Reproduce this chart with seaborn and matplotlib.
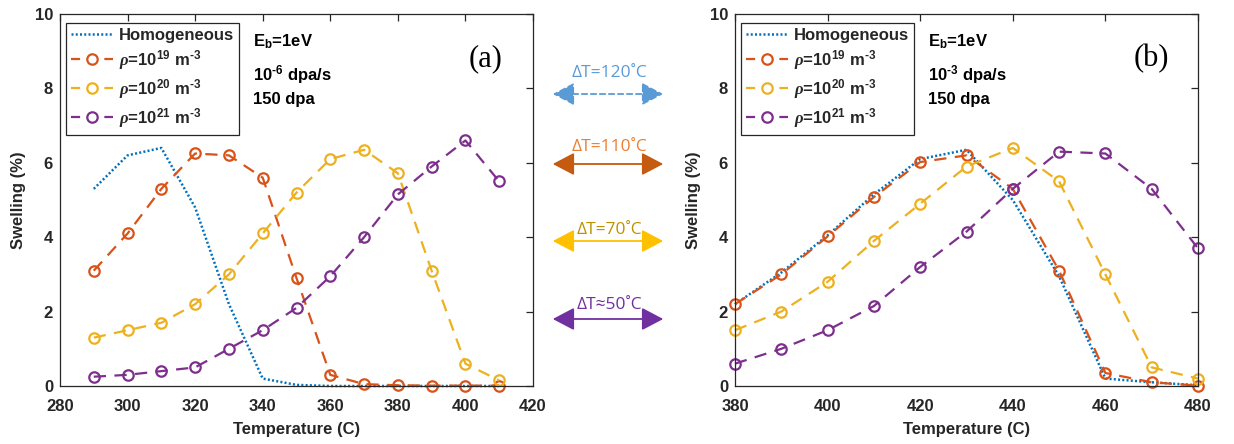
import numpy as np
import pandas as pd
import matplotlib
matplotlib.use("Agg")
import matplotlib.pyplot as plt
from matplotlib.patches import FancyArrowPatch
import seaborn as sns

# ---------------- data ----------------
temp_a = [290, 300, 310, 320, 330, 340, 350, 360, 370, 380, 390, 400, 410]
homog_a = [5.3, 6.2, 6.4, 4.8, 2.2, 0.2, 0.03, 0.0, 0.0, 0.0, 0.0, 0.0, 0.0]
rho19_a = [3.1, 4.1, 5.3, 6.25, 6.2, 5.6, 2.9, 0.3, 0.05, 0.02, 0.01, 0.01, 0.01]
rho20_a = [1.3, 1.5, 1.7, 2.2, 3.0, 4.1, 5.2, 6.1, 6.35, 5.72, 3.1, 0.6, 0.15]
rho21_a = [0.25, 0.3, 0.4, 0.5, 1.0, 1.5, 2.1, 2.95, 4.0, 5.15, 5.9, 6.6, 5.5]

temp_b = [380, 390, 400, 410, 420, 430, 440, 450, 460, 470, 480]
homog_b = [2.2, 3.05, 4.05, 5.15, 6.1, 6.35, 5.0, 2.95, 0.2, 0.1, 0.02]
rho19_b = [2.2, 3.0, 4.02, 5.08, 6.02, 6.2, 5.3, 3.1, 0.35, 0.1, 0.01]
rho20_b = [1.5, 2.0, 2.8, 3.9, 4.9, 5.9, 6.4, 5.5, 3.0, 0.5, 0.2]
rho21_b = [0.6, 1.0, 1.5, 2.15, 3.2, 4.15, 5.3, 6.3, 6.25, 5.3, 3.7]

series_labels = ["Homogeneous",
                 r"$\mathit{\rho}$=10$^{19}$ m$^{\text{-}3}$",
                 r"$\mathit{\rho}$=10$^{20}$ m$^{\text{-}3}$",
                 r"$\mathit{\rho}$=10$^{21}$ m$^{\text{-}3}$"]
series_colors = ["#0072BD", "#D95319", "#EDB120", "#7E2F8E"]

x_ticks_a = [280, 300, 320, 340, 360, 380, 400, 420]
x_ticks_b = [380, 400, 420, 440, 460, 480]
y_ticks = [0, 2, 4, 6, 8, 10]

notes_a = [r"E$_{\mathbf{b}}$=1eV", r"10$^{\text{-}6}$ dpa/s", "150 dpa"]
notes_b = [r"E$_{\mathbf{b}}$=1eV", r"10$^{\text{-}3}$ dpa/s", "150 dpa"]

dt_labels = ["\u0394T=120\u02daC", "\u0394T=110\u02daC", "\u0394T=70\u02daC", "\u0394T\u224850\u02daC"]
dt_text_colors = ["#5B9BD5", "#ED7D31", "#BF9000", "#7030A0"]
dt_arrow_colors = ["#5B9BD5", "#C55A11", "#FFC000", "#7030A0"]

# ---------------- style ----------------
sns.set_theme(style="white")
plt.rcParams["font.family"] = ["Liberation Sans", "DejaVu Sans"]
plt.rcParams["font.weight"] = "bold"
plt.rcParams["mathtext.fontset"] = "custom"
plt.rcParams["mathtext.rm"] = "Liberation Sans:bold"
plt.rcParams["mathtext.bf"] = "Liberation Sans:bold"
plt.rcParams["mathtext.it"] = "Liberation Serif:italic"
plt.rcParams["mathtext.default"] = "bf"

W, H = 1234, 444
fig = plt.figure(figsize=(W / 100, H / 100), dpi=100)

def fx(px):
    return px / W

def fy(py):
    return 1 - py / H

ax_a = fig.add_axes([fx(60), fy(386), fx(533 - 60), (386 - 14) / H])
ax_b = fig.add_axes([fx(735), fy(386), fx(1198 - 735), (386 - 14) / H])

dark = "#262626"
FS = 12

def draw_panel(ax, temps, ys, xlim, xticks, notes, tag):
    for i, (vals, lab, col) in enumerate(zip(ys, series_labels, series_colors)):
        df = pd.DataFrame({"T": temps, "S": vals})
        if i == 0:
            sns.lineplot(data=df, x="T", y="S", ax=ax, color=col, lw=1.8,
                         linestyle=(0, (0.8, 0.9)), label=lab, sort=False, clip_on=False)
        else:
            sns.lineplot(data=df, x="T", y="S", ax=ax, color=col, lw=1.6,
                         linestyle=(0, (5.5, 3.8)), marker="o", markersize=7.5,
                         markerfacecolor="none", markeredgecolor=col,
                         markeredgewidth=1.6, label=lab, sort=False, clip_on=False)
    ax.set_xlim(*xlim)
    ax.set_ylim(0, 10)
    ax.set_xticks(xticks)
    ax.set_yticks(y_ticks)
    ax.set_xlabel("Temperature (C)", fontsize=FS, fontweight="bold", color=dark, labelpad=6)
    ax.set_ylabel("Swelling (%)", fontsize=FS, fontweight="bold", color=dark, labelpad=6)
    ax.tick_params(direction="in", length=5, width=0.9, color=dark, top=True, right=True,
                   labelsize=FS, labelcolor=dark)
    ax.tick_params(axis="x", pad=9)
    ax.tick_params(axis="y", pad=5)
    for lbl in ax.get_xticklabels() + ax.get_yticklabels():
        lbl.set_fontweight("bold")
    for s in ax.spines.values():
        s.set_color(dark)
        s.set_linewidth(0.9)
        s.set_visible(True)
    leg = ax.legend(loc="upper left", bbox_to_anchor=(0.013, 0.976), frameon=True,
                    fancybox=False, edgecolor=dark, framealpha=1,
                    prop={"family": "Liberation Sans", "weight": "bold", "size": FS},
                    handlelength=2.5, handletextpad=0.36, labelspacing=0.3,
                    borderpad=0.3, borderaxespad=0.0)
    leg.get_frame().set_linewidth(0.9)
    for j, ln in enumerate(leg.get_lines()):
        if j > 0:
            ln.set_linestyle((0, (4.1, 10.9)))
    ys_note = [42, 75, 99]
    x0 = ax.get_position().x0
    for t, yp in zip(notes, ys_note):
        fig.text(x0 + fx(193), fy(yp), t, fontsize=FS, fontweight="bold",
                 color="black", va="center", ha="left")
    ax.text(0.9, 0.88, tag, transform=ax.transAxes, fontsize=22,
            family="Liberation Serif", fontweight="normal", color="black",
            ha="center", va="center")

draw_panel(ax_a, temp_a, [homog_a, rho19_a, rho20_a, rho21_a], (280, 420), x_ticks_a, notes_a, "(a)")
draw_panel(ax_b, temp_b, [homog_b, rho19_b, rho20_b, rho21_b], (380, 480), x_ticks_b, notes_b, "(b)")

# ---------------- ΔT annotations ----------------
text_y = [73, 147, 230, 305]
arrow_y = [94, 164, 241, 319]
for i, (lab, tc, ac) in enumerate(zip(dt_labels, dt_text_colors, dt_arrow_colors)):
    fig.text(fx(609), fy(text_y[i]), lab, fontsize=12.5, color=tc,
             family=["Open Sans", "DejaVu Sans"], fontweight="normal",
             ha="center", va="center")
    arr = FancyArrowPatch((fx(550), fy(arrow_y[i])), (fx(666), fy(arrow_y[i])),
                          transform=fig.transFigure,
                          arrowstyle="<|-|>,head_length=0.95,head_width=0.5",
                          mutation_scale=14, color=ac, lw=1.3,
                          linestyle=(0, (3, 2)) if i == 0 else "-")
    fig.patches.append(arr)

fig.savefig("out.png", dpi=100)
